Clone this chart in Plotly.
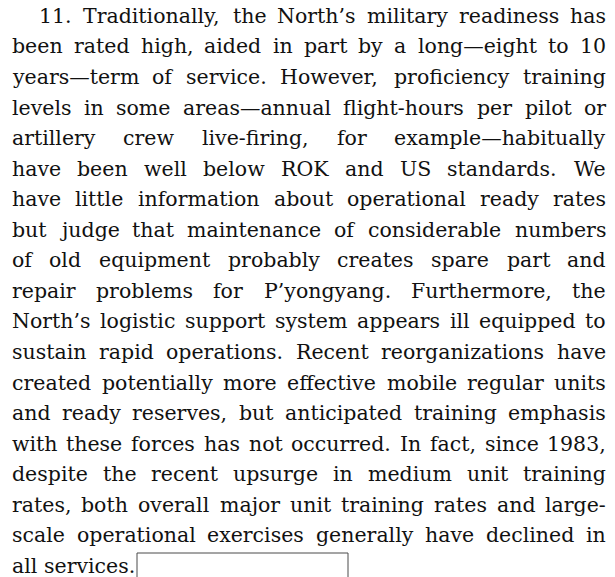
import glob
import struct
import plotly.graph_objects as go

# ---- content -------------------------------------------------------------
PARAGRAPH_LINES = [
    "11. Traditionally, the North\u2019s military readiness has",
    "been rated high, aided in part by a long\u2014eight to 10",
    "years\u2014term of service. However, proficiency training",
    "levels in some areas\u2014annual flight-hours per pilot or",
    "artillery crew live-firing, for example\u2014habitually",
    "have been well below ROK and US standards. We",
    "have little information about operational ready rates",
    "but judge that maintenance of considerable numbers",
    "of old equipment probably creates spare part and",
    "repair problems for P\u2019yongyang. Furthermore, the",
    "North\u2019s logistic support system appears ill equipped to",
    "sustain rapid operations. Recent reorganizations have",
    "created potentially more effective mobile regular units",
    "and ready reserves, but anticipated training emphasis",
    "with these forces has not occurred. In fact, since 1983,",
    "despite the recent upsurge in medium unit training",
    "rates, both overall major unit training rates and large-",
    "scale operational exercises generally have declined in",
    "all services.",
]
JUSTIFIED = [True] * 18 + [False]
BOX_X = [137, 348]
BOX_Y = [553, 590]

# ---- layout constants ----------------------------------------------------
W, H = 615, 577
LEFT, RIGHT, INDENT = 12, 606, 39
FIRST_BASELINE, LINE_STEP = 23, 30.55
FONT = "DejaVu Serif"
FS = 20.5
COLOR = "#111111"

TIMES_AFM = {' ': 250, 'a': 444, 'b': 500, 'c': 444, 'd': 500, 'e': 444, 'f': 333,
             'g': 500, 'h': 500, 'i': 278, 'j': 278, 'k': 500, 'l': 278, 'm': 778,
             'n': 500, 'o': 500, 'p': 500, 'q': 500, 'r': 333, 's': 389, 't': 278,
             'u': 500, 'v': 500, 'w': 722, 'x': 500, 'y': 500, 'z': 444,
             '.': 250, ',': 250, '-': 333, '\u2014': 1000, '\u2019': 333}


def load_width_fn(patterns):
    for pat in patterns:
        for path in glob.glob(pat, recursive=True):
            try:
                data = open(path, 'rb').read()
                num = struct.unpack('>H', data[4:6])[0]
                tables = {}
                for i in range(num):
                    o = 12 + 16 * i
                    tag = data[o:o + 4].decode('latin-1')
                    _, toff, tlen = struct.unpack('>III', data[o + 4:o + 16])
                    tables[tag] = toff
                head = tables['head']
                upem = struct.unpack('>H', data[head + 18:head + 20])[0]
                hhea = tables['hhea']
                nhm = struct.unpack('>H', data[hhea + 34:hhea + 36])[0]
                hm = tables['hmtx']
                adv = [struct.unpack('>H', data[hm + 4 * i:hm + 4 * i + 2])[0] for i in range(nhm)]
                cm = tables['cmap']
                n = struct.unpack('>H', data[cm + 2:cm + 4])[0]
                sub = None
                for i in range(n):
                    pid, eid, so = struct.unpack('>HHI', data[cm + 4 + 8 * i:cm + 12 + 8 * i])
                    if pid == 3 and eid == 1:
                        sub = cm + so
                if sub is None or struct.unpack('>H', data[sub:sub + 2])[0] != 4:
                    continue
                segx2 = struct.unpack('>H', data[sub + 6:sub + 8])[0]
                sc = segx2 // 2
                ends = struct.unpack('>%dH' % sc, data[sub + 14:sub + 14 + segx2])
                so_ = sub + 16 + segx2
                starts = struct.unpack('>%dH' % sc, data[so_:so_ + segx2])
                do_ = so_ + segx2
                deltas = struct.unpack('>%dh' % sc, data[do_:do_ + segx2])
                ro_ = do_ + segx2
                ros = struct.unpack('>%dH' % sc, data[ro_:ro_ + segx2])

                def gid(c):
                    for i in range(sc):
                        if c <= ends[i]:
                            if c < starts[i]:
                                return 0
                            if ros[i] == 0:
                                return (c + deltas[i]) & 0xFFFF
                            a = ro_ + 2 * i + ros[i] + 2 * (c - starts[i])
                            g = struct.unpack('>H', data[a:a + 2])[0]
                            return (g + deltas[i]) & 0xFFFF if g else 0
                    return 0

                def width(ch):
                    g = gid(ord(ch))
                    return adv[min(g, nhm - 1)] / upem
                return width
            except Exception:
                continue
    return lambda ch: TIMES_AFM.get(ch, 520) / 1000.0 * 1.2


char_w = load_width_fn(["/usr/share/fonts/**/DejaVuSerif.ttf",
                        "/usr/local/share/fonts/**/DejaVuSerif.ttf"])


def word_width(word):
    return sum(char_w(c) for c in word) * FS


# ---- build figure --------------------------------------------------------
annotations = []
for i, line in enumerate(PARAGRAPH_LINES):
    baseline = FIRST_BASELINE + LINE_STEP * i
    yc = baseline - 0.346 * FS
    x0 = INDENT if i == 0 else LEFT
    words = line.split(' ')
    widths = [word_width(w) for w in words]
    if JUSTIFIED[i] and len(words) > 1:
        gap = (RIGHT - x0 - sum(widths)) / (len(words) - 1)
    else:
        gap = char_w(' ') * FS
    x = x0
    for j, w in enumerate(words):
        last = JUSTIFIED[i] and j == len(words) - 1 and len(words) > 1
        annotations.append(dict(
            x=RIGHT if last else x, y=yc, xref='x', yref='y',
            text=w, showarrow=False,
            xanchor='right' if last else 'left', yanchor='middle',
            font=dict(family=FONT, size=FS, color=COLOR),
            borderpad=0, borderwidth=0,
        ))
        x += widths[j] + gap

fig = go.Figure()
fig.add_trace(go.Scatter(x=[0, W], y=[0, H], mode='markers',
                         marker=dict(opacity=0), hoverinfo='skip', showlegend=False))
fig.add_shape(type='rect', xref='x', yref='y', x0=BOX_X[0], x1=BOX_X[1],
              y0=BOX_Y[0], y1=BOX_Y[1], line=dict(color='#4a4a4a', width=1),
              fillcolor='rgba(0,0,0,0)')
fig.update_layout(
    width=W, height=H, margin=dict(l=0, r=0, t=0, b=0),
    paper_bgcolor='white', plot_bgcolor='white',
    xaxis=dict(range=[0, W], visible=False, fixedrange=True),
    yaxis=dict(range=[H, 0], visible=False, fixedrange=True),
    annotations=annotations, showlegend=False,
)
fig.write_html("out.html", config={'displayModeBar': False},
               post_script="document.body.style.margin='0';document.body.style.overflow='hidden';")
